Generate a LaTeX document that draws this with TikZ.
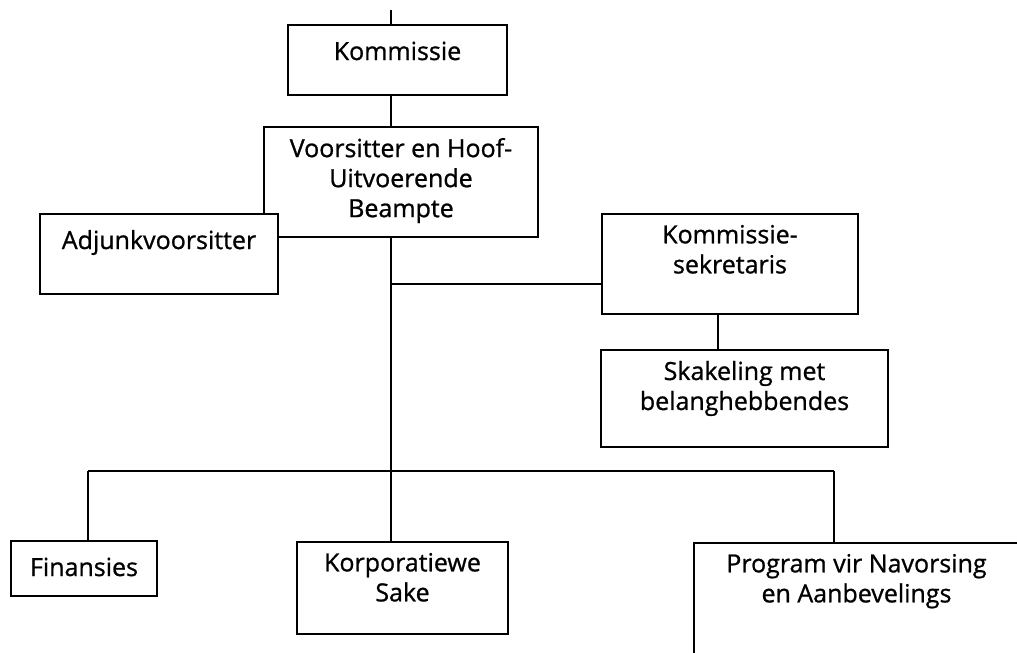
\documentclass[tikz,border=0pt]{standalone}
\usepackage{fontspec}
\newfontfamily\lblfont{Open Sans}[FakeBold=0.9]
\begin{document}
\begin{tikzpicture}[x=1pt,y=-1pt,
  box/.style={draw, fill=white, line width=1.3pt, inner sep=0pt, outer sep=0pt},
  lbl/.style={anchor=north, inner sep=0pt, outer sep=0pt, align=center, yshift=-11pt,
    font=\lblfont\fontsize{25}{30}\selectfont, execute at begin node={\rule{0pt}{24pt}}},
  conn/.style={line width=1.3pt}]
\useasboundingbox (0,0) rectangle (1017,653);
\clip (0,0) rectangle (1017,653);
\fill[white] (0,0) rectangle (1017,653);
% trunk x reference
\coordinate (top) at (391,10);
\coordinate (branch) at (391,284);
\coordinate (join) at (391,471);
\coordinate (sx) at (718,0);
\coordinate (fx) at (88,471);
\coordinate (px) at (834,471);
% boxes
\node[box, minimum width=219pt, minimum height=70pt,
  label={[lbl]north:Kommissie}] (kom) at (397.5,60) {};
\node[box, minimum width=274pt, minimum height=110pt,
  label={[lbl]north:{Voorsitter en Hoof-\\Uitvoerende\\Beampte}}] (voor) at (401,182) {};
\node[box, minimum width=238pt, minimum height=80pt,
  label={[lbl]north:Adjunkvoorsitter}] (adj) at (159,254) {};
\node[box, minimum width=256pt, minimum height=100pt,
  label={[lbl]north:{Kommissie-\\sekretaris}}] (sek) at (730,264) {};
\node[box, minimum width=287pt, minimum height=97pt,
  label={[lbl]north:{Skakeling met\\belanghebbendes}}] (ska) at (744.5,398.5) {};
\node[box, minimum width=146pt, minimum height=55pt,
  label={[lbl]north:Finansies}] (fin) at (84,568.5) {};
\node[box, minimum width=211pt, minimum height=92pt,
  label={[lbl]north:{Korporatiewe\\Sake}}] (kor) at (402.5,588) {};
\node[box, minimum width=325pt, minimum height=157pt,
  label={[lbl]north:{Program vir Navorsing\\en Aanbevelings}}] (prog) at (856.5,621.5) {};
% connectors
\draw[conn] (top) -- (kom.north -| top);
\draw[conn] (kom.south -| top) -- (voor.north -| top);
\draw[conn] (voor.south -| top) -- (join);
\draw[conn] (branch) -- (branch -| sek.west);
\draw[conn] (sek.south -| sx) -- (ska.north -| sx);
\draw[conn] (fx) -- (px);
\draw[conn] (fx) -- (fin.north -| fx);
\draw[conn] (join) -- (kor.north -| join);
\draw[conn] (px) -- (prog.north -| px);
\end{tikzpicture}
\end{document}
